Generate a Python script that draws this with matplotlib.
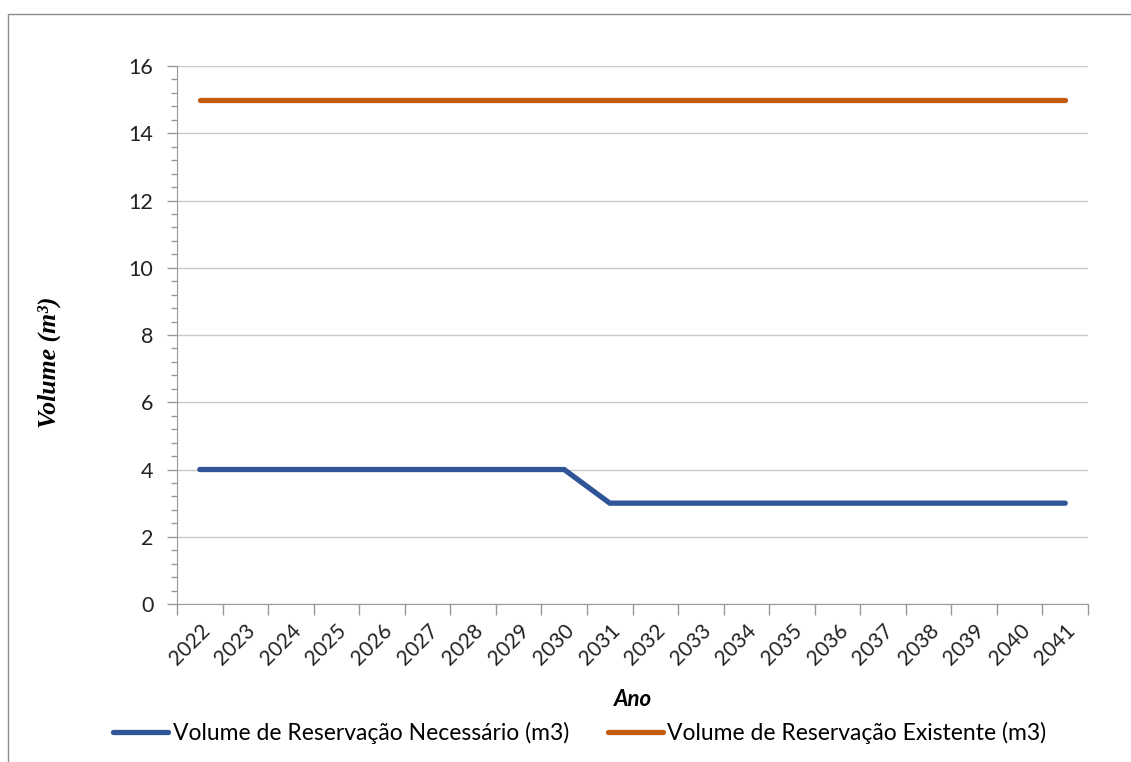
import matplotlib
matplotlib.use("Agg")
import matplotlib.pyplot as plt
from matplotlib.patches import Rectangle
from matplotlib.ticker import MultipleLocator

# Dados do grafico
anos = [str(a) for a in range(2022, 2042)]
necessario = [4, 4, 4, 4, 4, 4, 4, 4, 4, 3, 3, 3, 3, 3, 3, 3, 3, 3, 3, 3]
existente = [15] * 20

plt.rcParams['font.family'] = ['Lato', 'DejaVu Sans']

fig = plt.figure(figsize=(11.31, 7.62), dpi=100)
ax = fig.add_axes([0.1565, 0.2073, 0.8055, 0.7061])

x = list(range(len(anos)))
ax.plot(x, necessario, color='#2F5597', lw=3.8, solid_capstyle='round',
        label='Volume de Reservação Necessário (m3)')
ax.plot(x, existente, color='#C55A11', lw=3.8, solid_capstyle='round',
        label='Volume de Reservação Existente (m3)')

ax.set_xlim(-0.5, len(anos) - 0.5)
ax.set_ylim(0, 16)
ax.yaxis.set_major_locator(MultipleLocator(2))
ax.yaxis.set_minor_locator(MultipleLocator(0.4))
ax.grid(axis='y', which='major', color='#C8C8C8', lw=1)
ax.set_axisbelow(True)

# eixo x tipo categoria: marcas entre categorias
ax.set_xticks([i - 0.5 for i in range(len(anos) + 1)], minor=False)
ax.set_xticklabels([])
ax.set_xticks(x, minor=True)
ax.set_xticklabels(anos, minor=True, rotation=45, ha='right', va='top',
                   rotation_mode='anchor', fontsize=15, color='#222222')
ax.tick_params(axis='x', which='major', length=8, color='#999999', width=1)
ax.tick_params(axis='x', which='minor', length=0, pad=12)
ax.tick_params(axis='y', which='major', length=7, color='#999999', width=1,
               labelsize=15.5, labelcolor='#222222', pad=10)
ax.tick_params(axis='y', which='minor', length=4, color='#999999', width=1)

for s in ['top', 'right']:
    ax.spines[s].set_visible(False)
for s in ['left', 'bottom']:
    ax.spines[s].set_color('#999999')

ax.set_ylabel('Volume (m³)', fontsize=18.5, fontweight='bold', style='italic',
              family='Liberation Serif')
ax.yaxis.set_label_coords(-0.127, 0.45)
ax.set_xlabel('Ano', fontsize=16, fontweight='bold', style='italic')
ax.xaxis.set_label_coords(0.5, -0.158)

ax.legend(loc='center', bbox_to_anchor=(0.442, (604 - 733) / 538), ncol=2,
          frameon=False, fontsize=16.5, handlelength=2.4, handletextpad=0.2,
          columnspacing=1.7, borderpad=0)

# moldura externa
fig.patches.append(Rectangle((8 / 1131, -0.05), 1.2, 1 - 14 / 762 + 0.05,
                             transform=fig.transFigure, fill=False,
                             edgecolor='#8C8C8C', lw=1))

fig.savefig('out.png', dpi=100)
